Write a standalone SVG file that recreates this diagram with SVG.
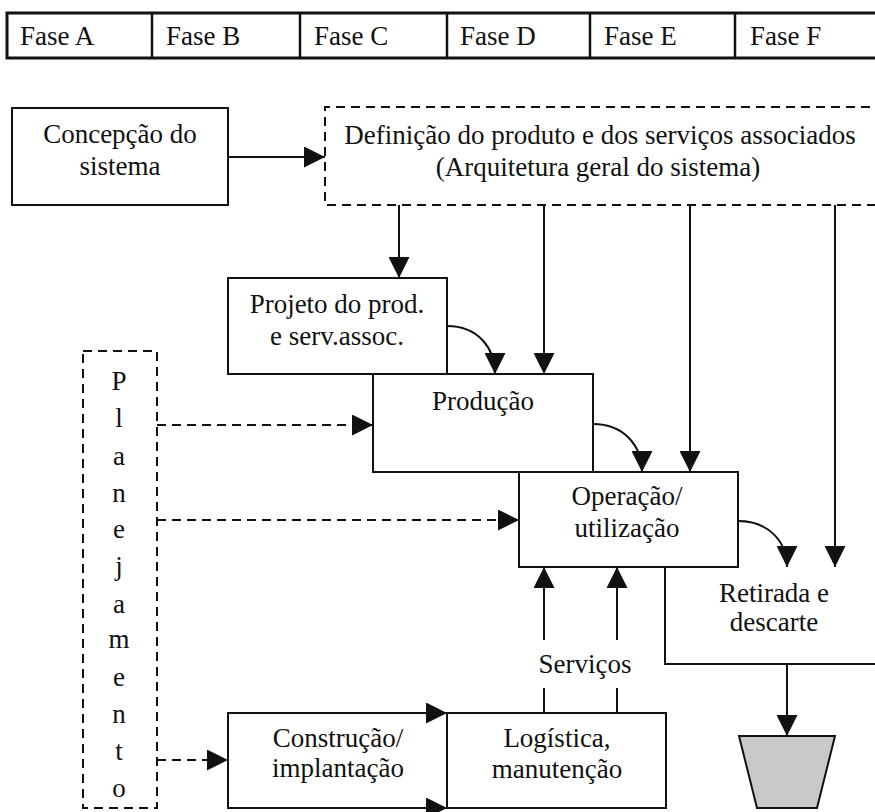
<svg xmlns="http://www.w3.org/2000/svg" width="875" height="812" viewBox="0 0 875 812">
  <style>
    .box { fill: #ffffff; stroke: #111111; stroke-width: 2; }
    .dbox { fill: none; stroke: #111111; stroke-width: 2; stroke-dasharray: 9 6; }
    .ln { fill: none; stroke: #111111; stroke-width: 2; }
    .dl { fill: none; stroke: #111111; stroke-width: 2; stroke-dasharray: 9 6; }
    .arr { marker-end: url(#head); }
    text { font-family: "Liberation Serif", "Times New Roman", serif; font-size: 27px; fill: #111111; }
    .c { text-anchor: middle; }
  </style>
  <defs>
    <marker id="head" viewBox="0 0 20 20" refX="20" refY="10" markerWidth="21" markerHeight="21" markerUnits="userSpaceOnUse" orient="auto">
      <path d="M0,0 L20,10 L0,20 Z" fill="#111111"/>
    </marker>
    <!-- stippled grey for the disposal bin -->
    <filter id="grain" x="0" y="0" width="100%" height="100%">
      <feTurbulence type="fractalNoise" baseFrequency="0.9" numOctaves="2" seed="3" result="n"/>
      <feColorMatrix in="n" type="matrix" values="0 0 0 0 0.55  0 0 0 0 0.55  0 0 0 0 0.55  0 0 0 1.2 -0.35" result="dots"/>
      <feComposite in="dots" in2="SourceGraphic" operator="in" result="clip"/>
      <feMerge>
        <feMergeNode in="SourceGraphic"/>
        <feMergeNode in="clip"/>
      </feMerge>
    </filter>
  </defs>
  <rect width="875" height="812" fill="#ffffff"/>

  <!-- phase bar -->
  <g id="phases">
    <rect x="7" y="13" width="880" height="45" fill="#ffffff" stroke="#111111" stroke-width="3"/>
    <g stroke="#111111" stroke-width="2.5">
      <line x1="152" y1="13" x2="152" y2="58"/>
      <line x1="300" y1="13" x2="300" y2="58"/>
      <line x1="447" y1="13" x2="447" y2="58"/>
      <line x1="590" y1="13" x2="590" y2="58"/>
      <line x1="735" y1="13" x2="735" y2="58"/>
    </g>
    <text x="20" y="45">Fase A</text>
    <text x="166" y="45">Fase B</text>
    <text x="314" y="45">Fase C</text>
    <text x="460" y="45">Fase D</text>
    <text x="604" y="45">Fase E</text>
    <text x="750" y="45">Fase F</text>
  </g>

  <g id="concepcao">
    <rect class="box" x="12" y="108" width="216" height="97"/>
    <text class="c" x="120" y="143">Concepção do</text>
    <text class="c" x="120" y="175">sistema</text>
  </g>

  <g id="definicao">
    <path class="dbox" d="M885,107 H325 V205 H885"/>
    <text class="c" x="600" y="144">Definição do produto e dos serviços associados</text>
    <text class="c" x="598" y="176">(Arquitetura geral do sistema)</text>
  </g>

  <g id="projeto">
    <rect class="box" x="228" y="278" width="219" height="96"/>
    <text class="c" x="337" y="313">Projeto do prod.</text>
    <text class="c" x="337" y="345">e serv.assoc.</text>
  </g>

  <g id="producao">
    <rect class="box" x="373" y="374" width="220" height="98"/>
    <text class="c" x="483" y="410">Produção</text>
  </g>

  <g id="operacao">
    <rect class="box" x="519" y="472" width="219" height="95"/>
    <text class="c" x="627" y="505">Operação/</text>
    <text class="c" x="627" y="537">utilização</text>
  </g>

  <g id="retirada">
    <path class="ln" d="M665,567 V664 H885"/>
    <text class="c" x="774" y="602">Retirada e</text>
    <text class="c" x="774" y="631">descarte</text>
  </g>

  <g id="descarte">
    <polygon points="739,736 835,736 817,808 757,808" fill="#cbcbcb" filter="url(#grain)"/>
    <polygon points="739,736 835,736 817,808 757,808" fill="none" stroke="#111111" stroke-width="2"/>
  </g>

  <g id="planejamento">
    <rect class="dbox" x="83" y="351" width="74" height="457"/>
    <text class="c" x="119" y="390">P</text>
    <text class="c" x="119" y="427">l</text>
    <text class="c" x="119" y="465">a</text>
    <text class="c" x="119" y="502">n</text>
    <text class="c" x="119" y="538">e</text>
    <text class="c" x="119" y="575">j</text>
    <text class="c" x="119" y="613">a</text>
    <text class="c" x="119" y="648">m</text>
    <text class="c" x="119" y="686">e</text>
    <text class="c" x="119" y="723">n</text>
    <text class="c" x="119" y="760">t</text>
    <text class="c" x="119" y="797">o</text>
  </g>

  <g id="construcao">
    <rect class="box" x="228" y="713" width="219" height="95"/>
    <text class="c" x="338" y="747">Construção/</text>
    <text class="c" x="338" y="777">implantação</text>
  </g>

  <g id="logistica">
    <rect class="box" x="447" y="713" width="219" height="95"/>
    <text class="c" x="557" y="747">Logística,</text>
    <text class="c" x="557" y="778">manutenção</text>
  </g>

  <g id="servicos-label">
    <text class="c" x="585" y="673">Serviços</text>
  </g>

  <g id="connectors">
    <!-- concept to definition -->
    <line class="ln arr" x1="228" y1="157" x2="325" y2="157"/>
    <!-- definition drops -->
    <line class="ln arr" x1="399" y1="205" x2="399" y2="278"/>
    <line class="ln arr" x1="544" y1="205" x2="544" y2="374"/>
    <line class="ln arr" x1="690" y1="205" x2="690" y2="472"/>
    <line class="ln arr" x1="835" y1="205" x2="835" y2="567"/>
    <!-- stage to stage curves -->
    <path class="ln arr" d="M447,326 C478,326 495,348 495,374"/>
    <path class="ln arr" d="M593,424 C624,424 642,446 642,472"/>
    <path class="ln arr" d="M738,521 C769,521 787,542 787,567"/>
    <!-- planning links -->
    <path class="dl arr" d="M157,425 H373"/>
    <path class="dl arr" d="M157,520 H519"/>
    <path class="dl arr" d="M157,760 H228"/>
    <!-- construction edges -->
    <line class="ln arr" x1="228" y1="713" x2="447" y2="713"/>
    <line class="ln arr" x1="228" y1="808" x2="447" y2="808"/>
    <!-- services up -->
    <line class="ln arr" x1="544" y1="640" x2="544" y2="567"/>
    <line class="ln arr" x1="617" y1="640" x2="617" y2="567"/>
    <line class="ln" x1="544" y1="688" x2="544" y2="713"/>
    <line class="ln" x1="617" y1="688" x2="617" y2="713"/>
    <!-- to disposal -->
    <line class="ln arr" x1="787" y1="664" x2="787" y2="736"/>
  </g>
</svg>
